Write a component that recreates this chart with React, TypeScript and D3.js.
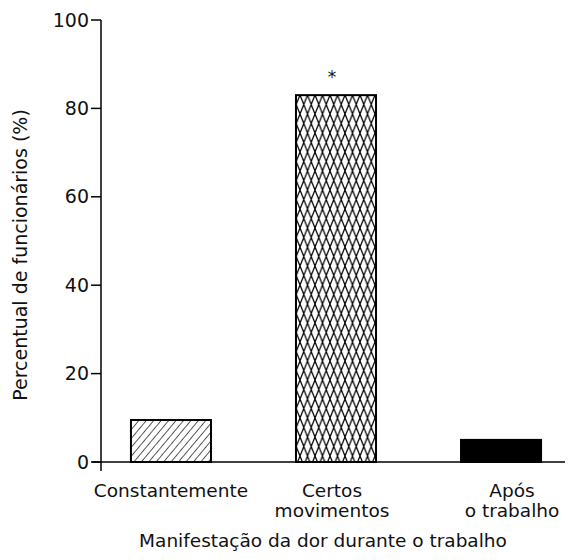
import React, { useEffect, useRef } from 'react';
import * as d3 from 'd3';

const categories = ['Constantemente', 'Certos movimentos', 'Após o trabalho'];
const categoryLines = [['Constantemente'], ['Certos', 'movimentos'], ['Após', 'o trabalho']];
const values = [9.5, 83, 5];
const fills = ['url(#hatch)', 'url(#cross)', '#000'];
const yTicks = [0, 20, 40, 60, 80, 100];
const xTitle = 'Manifestação da dor durante o trabalho';
const yTitle = 'Percentual de funcionários (%)';

const W = 569;
const H = 560;
const FONT = '"DejaVu Sans", sans-serif';

const App = () => {
  const svgRef = useRef<SVGSVGElement>(null);

  useEffect(() => {
    const svg = d3.select(svgRef.current);
    svg.selectAll('*').remove();

    const axisX = 101;
    const baseY = 462;

    const y = d3.scaleLinear().domain([0, 100]).range([baseY, 20]);
    const x = d3.scaleBand()
      .domain(categories)
      .range([92, 580])
      .paddingInner(0.515)
      .paddingOuter(0.236);

    // patterns
    const defs = svg.append('defs');
    const hatch = defs.append('pattern')
      .attr('id', 'hatch')
      .attr('patternUnits', 'userSpaceOnUse')
      .attr('width', 5.7)
      .attr('height', 10)
      .attr('patternTransform', 'rotate(40)');
    hatch.append('line')
      .attr('x1', 0).attr('y1', 0).attr('x2', 0).attr('y2', 10)
      .attr('stroke', '#000').attr('stroke-width', 1.3);

    const cross = defs.append('pattern')
      .attr('id', 'cross')
      .attr('patternUnits', 'userSpaceOnUse')
      .attr('width', 7.5)
      .attr('height', 19);
    cross.append('path')
      .attr('d', 'M-3.75,-9.5L11.25,28.5M11.25,-9.5L-3.75,28.5M3.75,-9.5L18.75,28.5M-11.25,28.5L3.75,-9.5')
      .attr('stroke', '#000').attr('stroke-width', 1.2).attr('fill', 'none');

    // bars
    svg.selectAll('.bar')
      .data(values)
      .enter()
      .append('rect')
      .attr('class', 'bar')
      .attr('x', (d, i) => x(categories[i]) as number)
      .attr('y', d => y(d))
      .attr('width', x.bandwidth())
      .attr('height', d => baseY - y(d))
      .attr('fill', (d, i) => fills[i])
      .attr('stroke', '#000')
      .attr('stroke-width', 2);

    // asterisk above the tallest bar
    svg.append('text')
      .attr('x', (x(categories[1]) as number) + x.bandwidth() / 2 - 4)
      .attr('y', y(values[1]) - 12)
      .attr('text-anchor', 'middle')
      .attr('font-family', FONT)
      .attr('font-size', 17)
      .attr('fill', '#111')
      .text('*');

    // axes
    svg.append('line')
      .attr('x1', 92).attr('x2', 565)
      .attr('y1', baseY).attr('y2', baseY)
      .attr('stroke', '#000').attr('stroke-width', 1.5);
    svg.append('line')
      .attr('x1', axisX).attr('x2', axisX)
      .attr('y1', y(100)).attr('y2', baseY + 9)
      .attr('stroke', '#000').attr('stroke-width', 1.5);

    const ticks = svg.append('g');
    ticks.selectAll('line')
      .data(yTicks)
      .enter()
      .append('line')
      .attr('x1', axisX - 10).attr('x2', axisX)
      .attr('y1', d => y(d)).attr('y2', d => y(d))
      .attr('stroke', '#000').attr('stroke-width', 1.5);
    ticks.selectAll('text')
      .data(yTicks)
      .enter()
      .append('text')
      .attr('x', axisX - 12)
      .attr('y', d => y(d))
      .attr('dy', '0.35em')
      .attr('text-anchor', 'end')
      .attr('font-family', FONT)
      .attr('font-size', 19)
      .attr('fill', '#111')
      .text(d => d);

    // category labels
    const labels = svg.append('g');
    categoryLines.forEach((lines, i) => {
      const cx = (x(categories[i]) as number) + x.bandwidth() / 2 + (i === 2 ? 11 : i === 1 ? -4 : 0);
      lines.forEach((s, j) => {
        labels.append('text')
          .attr('x', cx)
          .attr('y', 497 + j * 20)
          .attr('text-anchor', 'middle')
          .attr('font-family', FONT)
          .attr('font-size', 18.5)
          .attr('fill', '#111')
          .text(s);
      });
    });

    // axis titles
    svg.append('text')
      .attr('x', 323)
      .attr('y', 547)
      .attr('text-anchor', 'middle')
      .attr('font-family', FONT)
      .attr('font-size', 18.5)
      .attr('fill', '#111')
      .text(xTitle);

    svg.append('text')
      .attr('transform', 'translate(27,255) rotate(-90)')
      .attr('text-anchor', 'middle')
      .attr('font-family', FONT)
      .attr('font-size', 19)
      .attr('fill', '#111')
      .text(yTitle);
  }, []);

  return (
    <svg ref={svgRef} width={W} height={H} style={{ position: 'absolute', left: 0, top: 0, background: '#fff' }} />
  );
};

export default App;
